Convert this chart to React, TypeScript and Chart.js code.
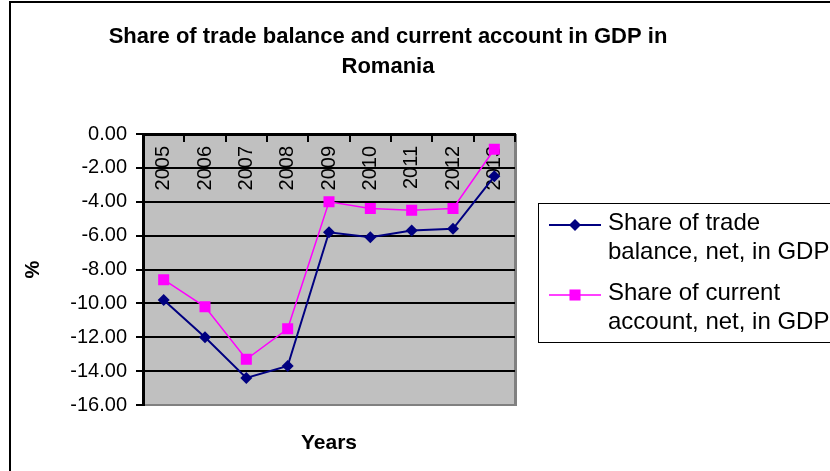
import React, { useEffect, useRef } from 'react';
import { Chart, registerables } from 'chart.js';

Chart.register(...registerables);

const years = ['2005', '2006', '2007', '2008', '2009', '2010', '2011', '2012', '2013'];
const tradeBalance = [-9.8, -12.0, -14.4, -13.7, -5.8, -6.1, -5.7, -5.6, -2.5];
const currentAccount = [-8.6, -10.2, -13.3, -11.5, -4.0, -4.4, -4.5, -4.4, -0.9];
const titleLines = ['Share of trade balance and current account in GDP in', 'Romania'];
const tradeLegend = ['Share of trade', 'balance, net, in GDP'];
const currentLegend = ['Share of current', 'account, net, in GDP'];
const yAxisTitle = '%';
const xAxisTitle = 'Years';
const yMin = -16;
const yMax = 0;
const yStep = 2;

const FONT = 'Arial, "Liberation Sans", sans-serif';

const decor = {
  id: 'decor',
  beforeDraw(chart: any) {
    const { ctx, chartArea: a } = chart;
    ctx.save();
    ctx.fillStyle = '#ffffff';
    ctx.fillRect(0, 0, chart.width, chart.height);
    // outer frame
    ctx.strokeStyle = '#000';
    ctx.lineWidth = 2;
    ctx.strokeRect(10, 2, 1200, 1200);
    // plot area
    ctx.fillStyle = '#C0C0C0';
    ctx.fillRect(a.left, a.top, a.right - a.left, a.bottom - a.top);
    ctx.strokeStyle = '#808080';
    ctx.lineWidth = 3;
    ctx.beginPath();
    ctx.moveTo(a.right + 0.5, a.top);
    ctx.lineTo(a.right + 0.5, a.bottom + 1);
    ctx.stroke();
    // title
    ctx.fillStyle = '#000';
    ctx.font = `bold 22px ${FONT}`;
    ctx.textAlign = 'center';
    ctx.textBaseline = 'middle';
    titleLines.forEach((t, i) => ctx.fillText(t, 388, 37 + i * 30));
    ctx.restore();
  },
  afterDraw(chart: any) {
    const { ctx } = chart;
    ctx.save();
    ctx.strokeStyle = '#000';
    ctx.lineWidth = 1;
    ctx.strokeRect(538.5, 203.5, 600, 139);
    const entries = [tradeLegend, currentLegend];
    chart.data.datasets.forEach((ds: any, i: number) => {
      const y0 = 225 + i * 70;
      ctx.strokeStyle = ds.borderColor;
      ctx.lineWidth = ds.borderWidth;
      ctx.beginPath();
      ctx.moveTo(549, y0);
      ctx.lineTo(601, y0);
      ctx.stroke();
      ctx.fillStyle = ds.backgroundColor;
      const cx = 575;
      if (ds.pointStyle === 'rectRot') {
        const r = ds.pointRadius;
        ctx.beginPath();
        ctx.moveTo(cx, y0 - r);
        ctx.lineTo(cx + r, y0);
        ctx.lineTo(cx, y0 + r);
        ctx.lineTo(cx - r, y0);
        ctx.closePath();
        ctx.fill();
      } else {
        const h = ds.pointRadius * Math.SQRT1_2;
        ctx.fillRect(cx - h, y0 - h, 2 * h, 2 * h);
      }
      ctx.fillStyle = '#000';
      ctx.font = `24px ${FONT}`;
      ctx.textAlign = 'left';
      ctx.textBaseline = 'middle';
      entries[i].forEach((t, j) => ctx.fillText(t, 608, 223 + i * 70 + j * 29));
    });
    ctx.restore();
  },
};

export default function App() {
  const ref = useRef<HTMLCanvasElement | null>(null);
  useEffect(() => {
    if (!ref.current) return;
    const chart = new Chart(ref.current, {
      type: 'line',
      data: {
        labels: years,
        datasets: [
          {
            label: tradeLegend.join(' '),
            data: tradeBalance,
            borderColor: '#000080',
            backgroundColor: '#000080',
            borderWidth: 2,
            pointStyle: 'rectRot',
            pointRadius: 6,
            pointBorderWidth: 0,
            pointBackgroundColor: '#000080',
            pointBorderColor: '#000080',
            tension: 0,
          },
          {
            label: currentLegend.join(' '),
            data: currentAccount,
            borderColor: '#FF00FF',
            backgroundColor: '#FF00FF',
            borderWidth: 1.5,
            pointStyle: 'rect',
            pointRadius: 7.8,
            pointBorderWidth: 0,
            pointBackgroundColor: '#FF00FF',
            pointBorderColor: '#FF00FF',
            tension: 0,
          },
        ],
      },
      options: {
        responsive: false,
        animation: false,
        layout: { padding: { top: 134, right: 315, bottom: 0, left: 0 } },
        plugins: {
          legend: { display: false },
          title: { display: false },
          tooltip: { enabled: false },
        },
        scales: {
          x: {
            type: 'category',
            position: { y: 0 } as any,
            offset: true,
            ticks: {
              minRotation: 90,
              maxRotation: 90,
              autoSkip: false,
              padding: 6,
              color: '#000',
              font: { size: 20, family: FONT },
            },
            grid: {
              display: true,
              drawOnChartArea: false,
              drawTicks: true,
              tickLength: 6,
              color: '#000',
              lineWidth: 2,
              offset: true,
            },
            border: { display: true, color: '#000', width: 3 },
          },
          x2: {
            type: 'category',
            position: 'bottom',
            offset: true,
            ticks: { display: false },
            grid: { display: false, drawTicks: false },
            border: { display: false },
            title: {
              display: true,
              text: xAxisTitle,
              color: '#000',
              font: { size: 21, weight: 'bold', family: FONT },
              padding: { top: 0, bottom: 15 },
            },
            afterFit: (s: any) => {
              s.height = 66;
            },
          },
          y: {
            min: yMin,
            max: yMax,
            ticks: {
              stepSize: yStep,
              callback: (v: any) => Number(v).toFixed(2),
              color: '#000',
              font: { size: 20, family: FONT },
              padding: 9,
            },
            grid: {
              color: (c: any) => (c.tick && c.tick.value === yMin ? '#808080' : '#000'),
              tickColor: '#000',
              lineWidth: 2,
              tickLength: 7,
              drawTicks: true,
            },
            border: { display: true, color: '#000', width: 3 },
            title: {
              display: true,
              text: yAxisTitle,
              color: '#000',
              font: { size: 20, weight: 'bold', family: FONT },
              padding: { top: 21, bottom: 0 },
            },
            afterFit: (s: any) => {
              s.width = 143;
            },
          },
        },
      },
      plugins: [decor],
    });
    return () => chart.destroy();
  }, []);
  return (
    <div style={{ position: 'absolute', left: 0, top: 0, width: 830, height: 471 }}>
      <canvas ref={ref} width={830} height={471} style={{ display: 'block' }} />
    </div>
  );
}
